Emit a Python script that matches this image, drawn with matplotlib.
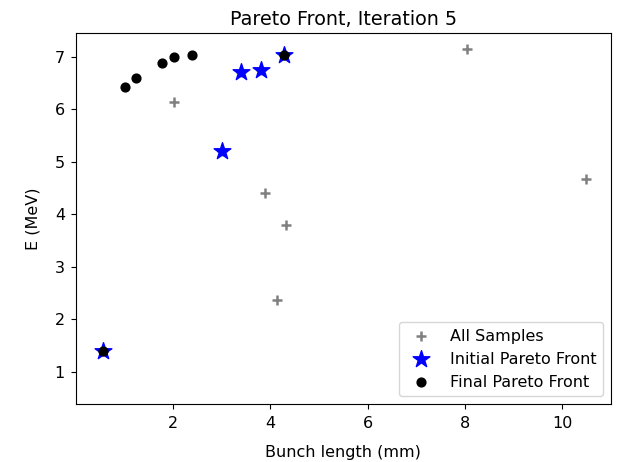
import matplotlib
matplotlib.use("Agg")
import matplotlib.pyplot as plt

# All samples (gray +)
all_x = [0.567, 2.01, 3.00, 3.40, 3.80, 4.28, 3.90, 4.33, 4.13, 8.05, 10.49]
all_y = [1.40, 6.14, 5.20, 6.71, 6.75, 7.03, 4.40, 3.79, 2.37, 7.14, 4.68]

# Initial Pareto front (blue stars)
init_x = [0.567, 3.00, 3.40, 3.80, 4.28]
init_y = [1.40, 5.20, 6.71, 6.75, 7.03]

# Final Pareto front (black dots)
final_x = [0.567, 1.02, 1.245, 1.774, 2.02, 2.39, 4.28]
final_y = [1.40, 6.43, 6.594, 6.874, 7.00, 7.03, 7.03]

plt.rcParams['font.size'] = 11.5

fig = plt.figure(figsize=(6.33, 4.62), dpi=100)
ax = fig.add_axes([76/633, 1-404/462, (610.7-76)/633, (404-33.3)/462])

ax.scatter(all_x, all_y, marker='+', color='gray', s=48, linewidths=1.8, label='All Samples')
ax.scatter(init_x, init_y, marker='*', color='blue', s=160, label='Initial Pareto Front')
ax.scatter(final_x, final_y, marker='o', color='black', s=40, label='Final Pareto Front')

ax.set_xlim(0.005, 11.0)
ax.set_ylim(0.385, 7.446)
ax.set_xticks([2, 4, 6, 8, 10])
ax.set_yticks([1, 2, 3, 4, 5, 6, 7])
ax.tick_params(axis='x', pad=5.5)
ax.tick_params(axis='y', pad=4.5)

ax.set_title('Pareto Front, Iteration 5', fontsize=13.8)
ax.set_xlabel('Bunch length (mm)', labelpad=10)
ax.set_ylabel('E (MeV)', labelpad=10)
ax.legend(loc='lower right')

fig.savefig('out.png', dpi=100)
